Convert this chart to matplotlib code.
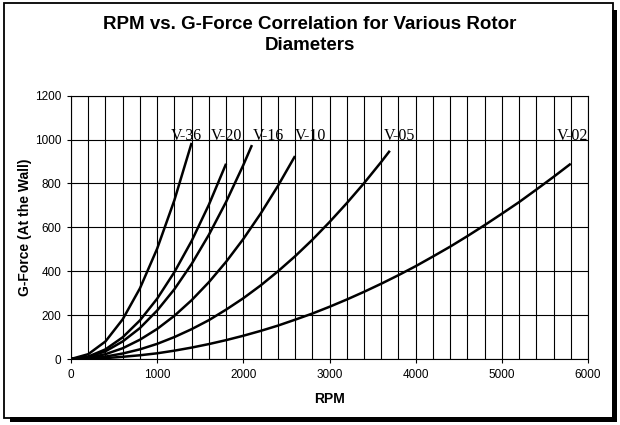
import matplotlib
matplotlib.use("Agg")
import matplotlib.pyplot as plt
from matplotlib.patches import Rectangle
import numpy as np

# G-force every 200 RPM, per rotor
rpm_v36 = [0, 200, 400, 600, 800, 1000, 1200, 1400]
g_v36 = [0, 22, 80, 181, 322, 503, 724, 985]

rpm_v20 = [0, 200, 400, 600, 800, 1000, 1200, 1400, 1600, 1800]
g_v20 = [0, 11, 44, 99, 176, 275, 396, 538, 703, 890]

rpm_v16 = [0, 200, 400, 600, 800, 1000, 1200, 1400, 1600, 1800, 2000, 2100]
g_v16 = [0, 9, 35, 80, 141, 221, 318, 433, 566, 716, 884, 975]

rpm_v10 = [0, 200, 400, 600, 800, 1000, 1200, 1400, 1600, 1800, 2000, 2200,
           2400, 2600]
g_v10 = [0, 5, 22, 49, 88, 137, 197, 268, 350, 443, 547, 662, 788, 925]

rpm_v05 = [0, 200, 400, 600, 800, 1000, 1200, 1400, 1600, 1800, 2000, 2200,
           2400, 2600, 2800, 3000, 3200, 3400, 3600, 3700]
g_v05 = [0, 3, 11, 25, 44, 69, 100, 136, 177, 225, 277, 335, 399, 468, 543,
         624, 710, 801, 898, 949]

rpm_v02 = [0, 200, 400, 600, 800, 1000, 1200, 1400, 1600, 1800, 2000, 2200,
           2400, 2600, 2800, 3000, 3200, 3400, 3600, 3800, 4000, 4200, 4400,
           4600, 4800, 5000, 5200, 5400, 5600, 5800]
g_v02 = [0, 1, 4, 10, 17, 26, 38, 52, 68, 86, 106, 128, 152, 179, 207, 238,
         271, 306, 343, 382, 423, 467, 512, 560, 610, 662, 715, 772, 830, 890]

series = [
    ("V-36", rpm_v36, g_v36, 1342),
    ("V-20", rpm_v20, g_v20, 1802),
    ("V-16", rpm_v16, g_v16, 2289),
    ("V-10", rpm_v10, g_v10, 2784),
    ("V-05", rpm_v05, g_v05, 3817),
    ("V-02", rpm_v02, g_v02, 5818),
]

W, H = 620, 425
fig = plt.figure(figsize=(W / 100, H / 100), dpi=100)
fig.patch.set_facecolor("white")

# chart frame with drop shadow (pixel coords -> figure coords)
def px_rect(x0, y0, x1, y1, **kw):
    r = Rectangle((x0 / W, 1 - y1 / H), (x1 - x0) / W, (y1 - y0) / H,
                  transform=fig.transFigure, **kw)
    fig.patches.append(r)

px_rect(10, 417, 617, 422, facecolor="black", edgecolor="none")
px_rect(612, 10, 617, 422, facecolor="black", edgecolor="none")
px_rect(4, 3, 613, 418, facecolor="none", edgecolor="black", linewidth=1.3)

ax = fig.add_axes([71 / W, 1 - 359 / H, (588 - 71) / W, (359 - 95.7) / H])

for name, x, y, lx in series:
    ax.plot(x, y, color="black", linewidth=1.8, solid_capstyle="butt")
    ax.text(lx, 1000, name, family="Liberation Serif", fontsize=11.5,
            ha="center", va="baseline", color="black")

ax.set_xlim(0, 6000)
ax.set_ylim(0, 1200)
ax.set_xticks(np.arange(0, 6001, 1000))
ax.set_xticks(np.arange(0, 6001, 200), minor=True)
ax.set_yticks(np.arange(0, 1201, 200))
ax.grid(True, which="both", axis="x", color="black", linewidth=0.8)
ax.grid(True, which="major", axis="y", color="black", linewidth=0.8)
ax.tick_params(axis="x", which="minor", length=0)
ax.tick_params(which="major", direction="out", length=3, width=0.8,
               labelsize=8.5, pad=4)
for lab in ax.get_xticklabels() + ax.get_yticklabels():
    lab.set_family("Liberation Sans")
for s in ax.spines.values():
    s.set_color("black")
    s.set_linewidth(0.8)

ax.set_xlabel("RPM", family="Liberation Sans", fontweight="bold",
              fontsize=10, labelpad=8)
ax.set_ylabel("G-Force (At the Wall)", family="Liberation Sans",
              fontweight="bold", fontsize=10, labelpad=2)

fig.text(0.5, 1 - 35 / H,
         "RPM vs. G-Force Correlation for Various Rotor\nDiameters",
         family="Liberation Sans", fontweight="bold", fontsize=13.5,
         ha="center", va="center", linespacing=1.3)

fig.savefig("out.png", dpi=100)
